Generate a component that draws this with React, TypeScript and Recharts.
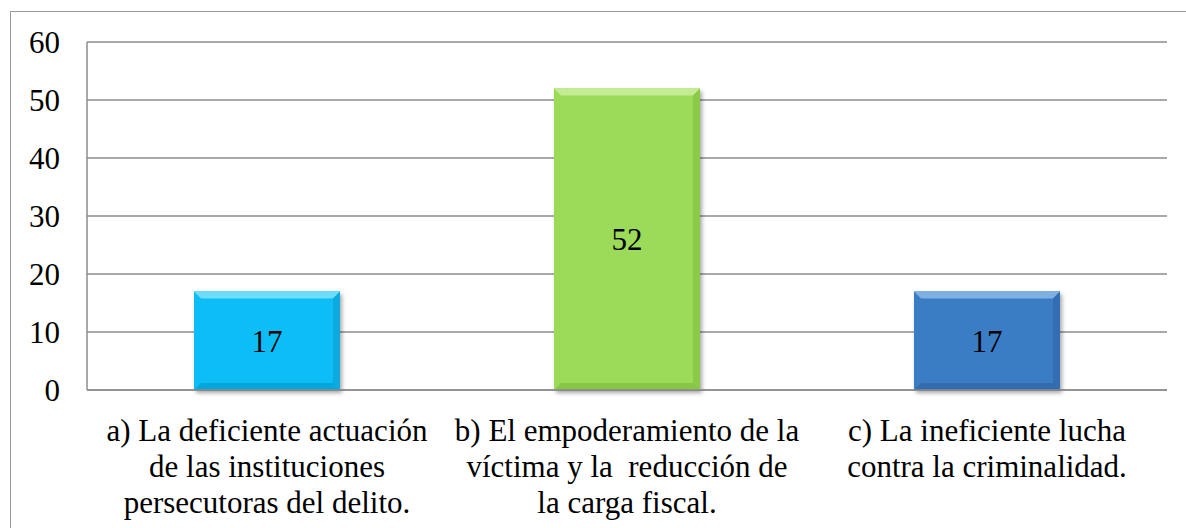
import React from "react";
import { BarChart, Bar, XAxis, YAxis, CartesianGrid, LabelList, Cell } from "recharts";

const categories = ["a", "b", "c"];
const values = [17, 52, 17];
const tickLines = [
  ["a) La deficiente actuación", "de las instituciones", "persecutoras del delito."],
  ["b) El empoderamiento de la", "víctima y la  reducción de", "la carga fiscal."],
  ["c) La ineficiente lucha", "contra la criminalidad."],
];
const yTicks = [0, 10, 20, 30, 40, 50, 60];
const barColors = ["#0BBDF6", "#9CDA5A", "#3B7DC4"];
const barLight = ["#6EDCFB", "#C4EC95", "#7FB0E2"];
const barDark = ["#0398C8", "#79B83A", "#2C609E"];

const data = categories.map((c, i) => ({ cat: c, value: values[i], idx: i }));

const FONT = "'Liberation Serif', 'Times New Roman', Times, serif";
const FS = 31;

const BevelBar = (props: any) => {
  const { x, y, width, height, payload } = props;
  const i = payload.idx;
  const b = 7;
  return (
    <g filter="url(#shadow)">
      <rect x={x} y={y} width={width} height={height} fill={barColors[i]} />
      <polygon
        points={`${x},${y} ${x + width},${y} ${x + width - b},${y + b} ${x + b},${y + b}`}
        fill={barLight[i]}
      />
      <polygon
        points={`${x + width},${y} ${x + width - b},${y + b} ${x + width - b},${y + height - b} ${x + width},${y + height}`}
        fill={barDark[i]}
        opacity={0.5}
      />
      <polygon
        points={`${x},${y + height} ${x + b},${y + height - b} ${x + width - b},${y + height - b} ${x + width},${y + height}`}
        fill={barDark[i]}
        opacity={0.6}
      />
    </g>
  );
};

const XTick = (props: any) => {
  const { x, y, index } = props;
  const lines = tickLines[index] || [];
  return (
    <text x={x} y={y} textAnchor="middle" fontFamily={FONT} fontSize={FS} fill="#000">
      {lines.map((l, k) => (
        <tspan key={k} x={x} y={y + 51 + k * 36} style={{ whiteSpace: "pre" }}>
          {l}
        </tspan>
      ))}
    </text>
  );
};

export default function App() {
  return (
    <div style={{ position: "absolute", left: 0, top: 0, width: 1186, height: 528, overflow: "hidden", background: "#fff" }}>
      <div
        style={{
          position: "absolute",
          left: 10,
          top: 11,
          width: 1200,
          height: 540,
          border: "1.5px solid #9a9a9a",
          boxSizing: "border-box",
        }}
      />
      <div style={{ position: "absolute", left: 0, top: 0 }}>
        <BarChart width={1186} height={528} data={data} margin={{ top: 42, right: 19, bottom: 0, left: 0 }} barSize={146}>
          <defs>
            <filter id="shadow" x="-10%" y="-10%" width="130%" height="130%">
              <feDropShadow dx="2" dy="3" stdDeviation="2" floodColor="#000" floodOpacity="0.35" />
            </filter>
          </defs>
          <CartesianGrid vertical={false} stroke="#8c8c8c" strokeWidth={1.5} />
          <XAxis
            dataKey="cat"
            height={138}
            tickLine={false}
            tickSize={0}
            tickMargin={0}
            axisLine={{ stroke: "#8c8c8c", strokeWidth: 1.5 }}
            tick={<XTick />}
            interval={0}
          />
          <YAxis
            width={87}
            domain={[0, 60]}
            ticks={yTicks}
            tickLine={false}
            tickSize={0}
            tickMargin={27}
            axisLine={{ stroke: "#8c8c8c", strokeWidth: 1.5 }}
            tick={{ fontFamily: FONT, fontSize: FS, fill: "#000" }}
            interval={0}
          />
          <Bar dataKey="value" isAnimationActive={false} shape={<BevelBar />}>
            {data.map((d, i) => (
              <Cell key={i} fill={barColors[i]} />
            ))}
            <LabelList dataKey="value" position="center" style={{ fontFamily: FONT, fontSize: FS, fill: "#000" }} />
          </Bar>
        </BarChart>
      </div>
    </div>
  );
}
